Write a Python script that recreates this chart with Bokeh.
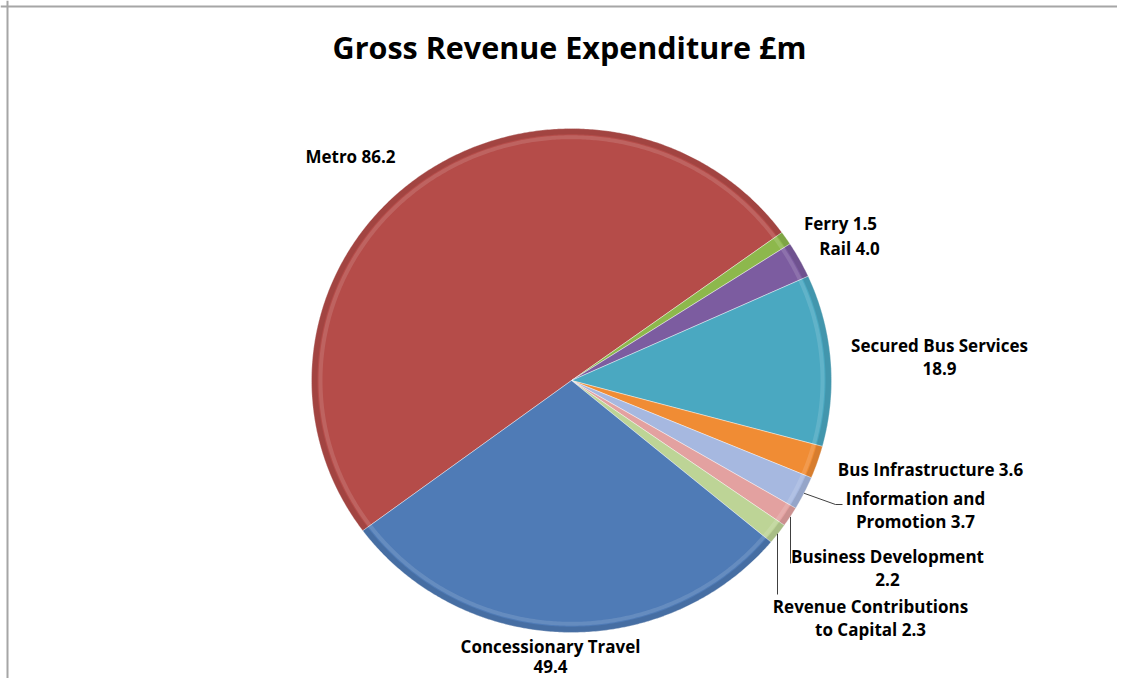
import numpy as np
from bokeh.plotting import figure
from bokeh.models import Range1d, Span, ColumnDataSource
from bokeh.core.properties import value
from bokeh.embed import file_html
from bokeh.resources import INLINE

# ---- data ----
names = ["Metro", "Ferry", "Rail", "Secured Bus Services", "Bus Infrastructure",
         "Information and Promotion", "Business Development",
         "Revenue Contributions to Capital", "Concessionary Travel"]
values = [86.2, 1.5, 4.0, 18.9, 3.6, 3.7, 2.2, 2.3, 49.4]
colors = ["#B54C49", "#8DB84C", "#7C5CA0", "#4AA8C1", "#F08C34",
          "#A6B8E0", "#E3A1A0", "#BDD496", "#4F7BB6"]
title_text = "Gross Revenue Expenditure £m"

# label text layout (first line / second line pieces)
line1_names = ["Metro", "Ferry", "Rail", "Secured Bus Services", "Bus Infrastructure",
               "Information and", "Business Development", "Revenue Contributions",
               "Concessionary Travel"]
line2_names = ["", "", "", "", "", "Promotion", "", "to Capital", ""]
value_own_line = [False, False, False, True, False, False, True, False, True]

W, H = 1117, 678
FONT = "Open Sans"

def X(px):
    return px

def Y(py):
    return H - py

p = figure(width=W, height=H, output_backend="svg", toolbar_location=None,
           x_range=Range1d(0, W), y_range=Range1d(0, H), min_border=0,
           background_fill_color="white", border_fill_color="white")
p.axis.visible = False
p.grid.visible = False
p.outline_line_color = None

# chart area border (left and top)
p.add_layout(Span(location=X(7), dimension="height", line_color="#A6A6A6", line_width=2))
p.add_layout(Span(location=Y(6), dimension="width", line_color="#A6A6A6", line_width=2))

# ---- pie (slightly elliptical, as in the reference) ----
cx, cy, RX, RY = X(571), Y(380), 260, 252
offset = 216.6
vals = np.array(values)
cum = np.cumsum(vals) / vals.sum() * 360.0
starts = offset - np.concatenate([[0], cum[:-1]])
ends = offset - cum

def ring(a0, a1, f_in, f_out):
    t = np.radians(np.linspace(a0, a1, max(int(abs(a0 - a1) * 2) + 2, 3)))
    xo = cx + f_out * RX * np.cos(t)
    yo = cy + f_out * RY * np.sin(t)
    if f_in <= 0:
        return list(np.r_[cx, xo]), list(np.r_[cy, yo])
    xi = cx + f_in * RX * np.cos(t[::-1])
    yi = cy + f_in * RY * np.sin(t[::-1])
    return list(np.r_[xo, xi]), list(np.r_[yo, yi])

slice_xs, slice_ys, dk_xs, dk_ys, lt_xs, lt_ys = [], [], [], [], [], []
for a0, a1 in zip(starts, ends):
    xs, ys = ring(a0, a1, 0, 1.0)
    slice_xs.append(xs); slice_ys.append(ys)
    xs, ys = ring(a0, a1, 1 - 6 / RX, 1.0)
    dk_xs.append(xs); dk_ys.append(ys)
    xs, ys = ring(a0, a1, 1 - 11 / RX, 1 - 7 / RX)
    lt_xs.append(xs); lt_ys.append(ys)

p.patches(xs=slice_xs, ys=slice_ys, fill_color=colors, line_color="#FFFFFF",
          line_alpha=0.4, line_width=1)
p.patches(xs=dk_xs, ys=dk_ys, fill_color="#000000", fill_alpha=0.10, line_color=None)
p.patches(xs=lt_xs, ys=lt_ys, fill_color="#FFFFFF", fill_alpha=0.13, line_color=None)

# ---- title ----
p.text(x=[X(569)], y=[Y(46)], text=[title_text], text_font=value(FONT),
       text_font_style="bold", text_font_size="30.5px", text_align="center",
       text_baseline="middle", text_color="#000000")

# ---- labels ----
label_pos = [  # centre of first line (ref px)
    (350, 156), (840, 223), (849, 248), (939, 345), (930, 469),
    (915, 498), (887, 556), (870, 606), (550, 646)]
line_gap = [22.5] * 8 + [20]
lx, ly, lt = [], [], []
for i, v in enumerate(values):
    vs = f"{v:.1f}"
    px, py = label_pos[i]
    if value_own_line[i]:
        lines = [line1_names[i], vs]
    elif line2_names[i]:
        lines = [line1_names[i], f"{line2_names[i]} {vs}"]
    else:
        lines = [f"{line1_names[i]} {vs}"]
    for k, s in enumerate(lines):
        lx.append(X(px))
        ly.append(Y(py + line_gap[i] * k))
        lt.append(s)
p.text(x=lx, y=ly, text=lt, text_font=value(FONT), text_font_style="bold",
       text_font_size="17px", text_align="center", text_baseline="middle",
       text_color="#000000")

# ---- leader lines ----
mids = np.radians((starts + ends) / 2)
leaders = {5: [(835, 504), (842, 504)], 6: [(790, 563)], 7: [(777, 594)]}
for i, pts in leaders.items():
    sx = cx + RX * np.cos(mids[i])
    sy = cy + RY * np.sin(mids[i])
    xs = [sx] + [X(a) for a, b in pts]
    ys = [sy] + [Y(b) for a, b in pts]
    if i in (6, 7):
        xs = [xs[1], xs[1]]
        ys = [sy, ys[1]]
    p.line(xs, ys, line_color="#404040", line_width=1)

open("out.html", "w").write(file_html(p, INLINE))
